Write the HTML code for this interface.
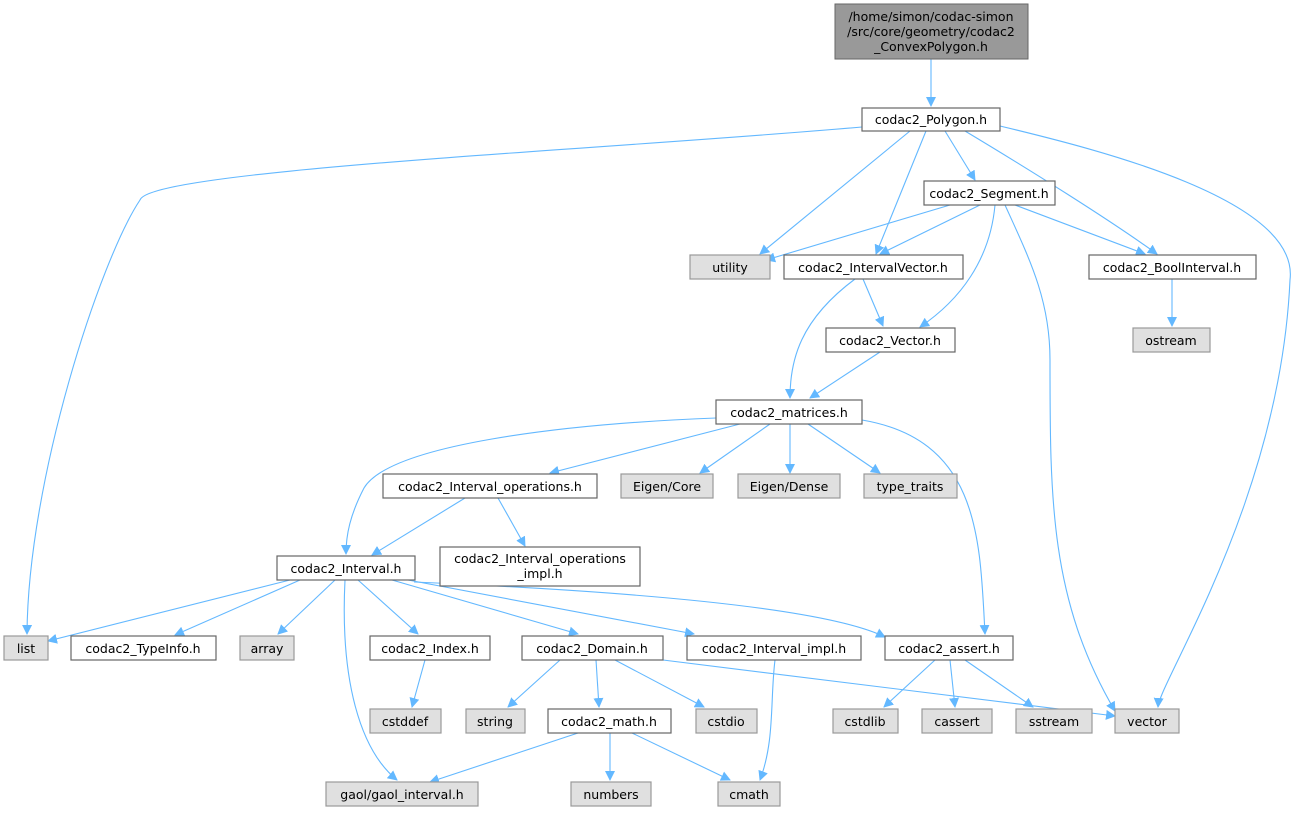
<!DOCTYPE html>
<html><head><meta charset="utf-8"><style>
html,body{margin:0;padding:0;background:#fff}
svg{display:block}
text{font-family:"DejaVu Sans","Liberation Sans",sans-serif;font-size:12.5px;fill:#000;text-anchor:middle}
.n{fill:#fff;stroke:#666;stroke-width:1.2}
.g{fill:#e0e0e0;stroke:#999;stroke-width:1.2}
.e{fill:none;stroke:#63b8ff;stroke-width:1.1}
</style></head><body>
<svg width="1299" height="813" viewBox="0 0 1299 813" xmlns="http://www.w3.org/2000/svg">
<defs><marker id="a" viewBox="0 0 10 10" refX="9" refY="5" markerWidth="10" markerHeight="10" markerUnits="userSpaceOnUse" orient="auto"><path d="M0,0L10,5L0,10z" fill="#63b8ff"/></marker></defs>
<g class="e" marker-end="url(#a)">
<path d="M931,59L931,106"/>
<path d="M862,127C600,150 150,170 140,200 C100,260 28,480 27,634"/>
<path d="M910,131L760,254"/>
<path d="M926,131L876,254"/>
<path d="M945,131L975,180"/>
<path d="M965,131C1030,170 1110,220 1157,254"/>
<path d="M1000,126C1100,150 1300,200 1290,280 C1280,500 1160,680 1158,707"/>
<path d="M950,205L766,260"/>
<path d="M980,205L880,254"/>
<path d="M1015,205L1145,254"/>
<path d="M995,205C990,260 960,300 920,327"/>
<path d="M1005,205C1030,260 1050,300 1050,360 C1050,500 1050,600 1115,711"/>
<path d="M863,279L883,326"/>
<path d="M855,279C800,320 790,360 790,398"/>
<path d="M1172,279L1172,326"/>
<path d="M880,352L810,398"/>
<path d="M740,424L550,473"/>
<path d="M770,424L700,473"/>
<path d="M790,424L790,473"/>
<path d="M808,424L880,473"/>
<path d="M716,418C560,424 390,445 364,488 C350,515 346,535 346,554"/>
<path d="M862,420C980,440 980,540 985,634"/>
<path d="M465,498L372,555"/>
<path d="M498,498L525,546"/>
<path d="M290,580L48,641"/>
<path d="M300,580L175,635"/>
<path d="M335,580L278,634"/>
<path d="M358,580L418,634"/>
<path d="M392,580L578,634"/>
<path d="M408,580L694,634"/>
<path d="M414,582C600,590 820,605 885,637"/>
<path d="M345,580C340,680 360,750 397,780"/>
<path d="M425,660L412,707"/>
<path d="M560,660L508,707"/>
<path d="M596,660L599,707"/>
<path d="M615,660L704,707"/>
<path d="M663,660L1115,716"/>
<path d="M775,660C770,700 775,740 760,780"/>
<path d="M935,660L884,707"/>
<path d="M950,660L955,707"/>
<path d="M965,660L1033,707"/>
<path d="M578,733L430,782"/>
<path d="M610,733L610,780"/>
<path d="M632,733L730,780"/>
</g>
<rect x="835" y="4" width="193" height="55" fill="#999" stroke="#666"/>
<text x="931" y="21">/home/simon/codac-simon</text>
<text x="931" y="36">/src/core/geometry/codac2</text>
<text x="931" y="51">_ConvexPolygon.h</text>
<rect class="n" x="862" y="108" width="138" height="23"/><text x="931" y="124">codac2_Polygon.h</text>
<rect class="n" x="924" y="181" width="131" height="24"/><text x="989" y="198">codac2_Segment.h</text>
<rect class="g" x="690" y="255" width="80" height="24"/><text x="730" y="272">utility</text>
<rect class="n" x="784" y="255" width="179" height="24"/><text x="873" y="272">codac2_IntervalVector.h</text>
<rect class="n" x="1089" y="255" width="167" height="24"/><text x="1172" y="272">codac2_BoolInterval.h</text>
<rect class="g" x="1133" y="328" width="77" height="24"/><text x="1171" y="345">ostream</text>
<rect class="n" x="826" y="328" width="129" height="24"/><text x="890" y="345">codac2_Vector.h</text>
<rect class="n" x="716" y="400" width="146" height="24"/><text x="789" y="417">codac2_matrices.h</text>
<rect class="n" x="383" y="474" width="214" height="24"/><text x="490" y="491">codac2_Interval_operations.h</text>
<rect class="g" x="621" y="474" width="92" height="24"/><text x="667" y="491">Eigen/Core</text>
<rect class="g" x="738" y="474" width="102" height="24"/><text x="789" y="491">Eigen/Dense</text>
<rect class="g" x="864" y="474" width="93" height="24"/><text x="910" y="491">type_traits</text>
<rect class="n" x="440" y="547" width="200" height="39"/><text x="540" y="563">codac2_Interval_operations</text><text x="540" y="578">_impl.h</text>
<rect class="n" x="277" y="556" width="138" height="24"/><text x="346" y="573">codac2_Interval.h</text>
<rect class="g" x="4" y="636" width="44" height="24"/><text x="26" y="653">list</text>
<rect class="n" x="71" y="636" width="145" height="24"/><text x="143" y="653">codac2_TypeInfo.h</text>
<rect class="g" x="240" y="636" width="54" height="24"/><text x="267" y="653">array</text>
<rect class="n" x="370" y="636" width="120" height="24"/><text x="430" y="653">codac2_Index.h</text>
<rect class="n" x="522" y="636" width="141" height="24"/><text x="592" y="653">codac2_Domain.h</text>
<rect class="n" x="687" y="636" width="174" height="24"/><text x="774" y="653">codac2_Interval_impl.h</text>
<rect class="n" x="885" y="636" width="128" height="24"/><text x="949" y="653">codac2_assert.h</text>
<rect class="g" x="370" y="709" width="71" height="24"/><text x="405" y="726">cstddef</text>
<rect class="g" x="466" y="709" width="59" height="24"/><text x="495" y="726">string</text>
<rect class="n" x="548" y="709" width="123" height="24"/><text x="609" y="726">codac2_math.h</text>
<rect class="g" x="696" y="709" width="61" height="24"/><text x="726" y="726">cstdio</text>
<rect class="g" x="833" y="709" width="65" height="24"/><text x="865" y="726">cstdlib</text>
<rect class="g" x="922" y="709" width="70" height="24"/><text x="957" y="726">cassert</text>
<rect class="g" x="1016" y="709" width="76" height="24"/><text x="1054" y="726">sstream</text>
<rect class="g" x="1115" y="709" width="64" height="24"/><text x="1147" y="726">vector</text>
<rect class="g" x="326" y="782" width="152" height="24"/><text x="402" y="799">gaol/gaol_interval.h</text>
<rect class="g" x="571" y="782" width="80" height="24"/><text x="611" y="799">numbers</text>
<rect class="g" x="718" y="782" width="62" height="24"/><text x="749" y="799">cmath</text>
</svg>
</body></html>
